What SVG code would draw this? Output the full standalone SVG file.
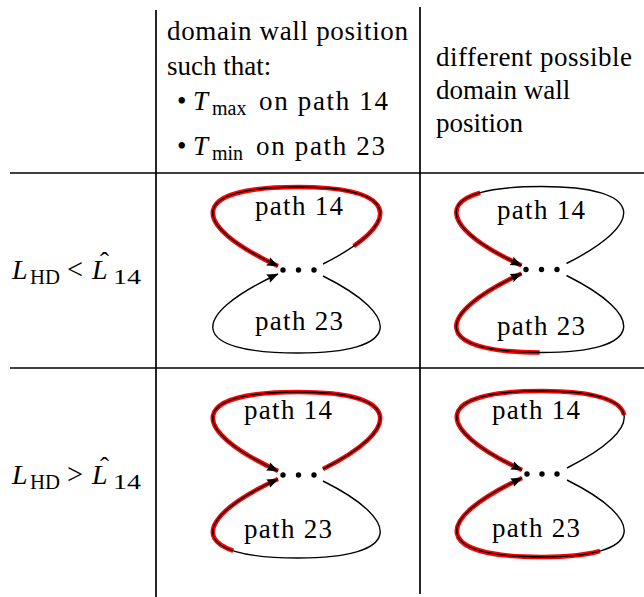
<svg xmlns="http://www.w3.org/2000/svg" width="644" height="597" viewBox="0 0 644 597">
<style>
text{font-family:"Liberation Serif","DejaVu Serif",serif;font-size:27px;fill:#000}
.i{font-style:italic}
.s{font-size:20px}
.grid{stroke:#000;stroke-width:1.7;fill:none}
.loop{fill:none;stroke:#000;stroke-width:1.4}
.hl{fill:none;stroke:#ff0000;stroke-width:4.6}
.dot{fill:#000}
</style>
<defs>
<marker id="arr" viewBox="-12 -5 13 10" refX="0" refY="0" markerWidth="13" markerHeight="10" markerUnits="userSpaceOnUse" orient="auto">
<path d="M0.5,0 L-11,-4.5 Q-8.5,0 -11,4.5 Z" fill="#000"/>
</marker>
<path id="tp" d="M25,-6 C105,-46 105,-83 0,-83 C-110,-83 -110,-46 -20,-4"/>
<path id="bp" d="M25,6 C105,46 105,83 0,83 C-110,83 -110,46 -20,4"/>
</defs>
<g id="grid">
<line class="grid" x1="10" y1="173" x2="644" y2="173"/>
<line class="grid" x1="10" y1="368" x2="644" y2="368"/>
<line class="grid" x1="156" y1="10" x2="156" y2="597"/>
<line class="grid" x1="420" y1="7" x2="420" y2="594"/>
</g>
<g id="header-col2">
<text x="167" y="40" textLength="241" lengthAdjust="spacing">domain wall position</text>
<text x="167" y="75">such that:</text>
<text x="177" y="110">•</text>
<text class="i" x="193" y="110">T</text>
<text class="s" x="212" y="115">max</text>
<text x="259" y="110" textLength="129" lengthAdjust="spacing">on path 14</text>
<text x="177" y="155">•</text>
<text class="i" x="193" y="155">T</text>
<text class="s" x="212" y="160">min</text>
<text x="256" y="155" textLength="129" lengthAdjust="spacing">on path 23</text>
</g>
<g id="header-col3">
<text x="436" y="66" textLength="196" lengthAdjust="spacing">different possible</text>
<text x="436" y="99">domain wall</text>
<text x="436" y="132">position</text>
</g>
<g id="row1-label">
<text class="i" x="12" y="279" style="font-size:28px">L</text>
<text x="30" y="284" style="font-size:20px" textLength="30" lengthAdjust="spacingAndGlyphs">HD</text>
<text x="67" y="279" style="font-size:30px" textLength="16" lengthAdjust="spacingAndGlyphs">&lt;</text>
<text class="i" x="92" y="279" style="font-size:28px">L</text>
<text x="100" y="271">ˆ</text>
<text x="113" y="284" style="font-size:21px" textLength="28" lengthAdjust="spacingAndGlyphs">14</text>
</g>
<g id="row2-label">
<text class="i" x="12" y="484" style="font-size:28px">L</text>
<text x="30" y="489" style="font-size:20px" textLength="30" lengthAdjust="spacingAndGlyphs">HD</text>
<text x="67" y="484" style="font-size:30px" textLength="16" lengthAdjust="spacingAndGlyphs">&gt;</text>
<text class="i" x="92" y="484" style="font-size:28px">L</text>
<text x="100" y="476">ˆ</text>
<text x="113" y="489" style="font-size:21px" textLength="28" lengthAdjust="spacingAndGlyphs">14</text>
</g>
<g id="connectors">
<g transform="translate(298,270)">
<path class="hl" d="M25,-6 C105,-46 105,-83 0,-83 C-110,-83 -110,-46 -20,-4" pathLength="100" stroke-dasharray="90 200" stroke-dashoffset="-10"/>
<use href="#tp" class="loop" marker-end="url(#arr)"/>
<use href="#bp" class="loop" marker-end="url(#arr)"/>
</g>
<g transform="translate(541.5,269.5)">
<path class="hl" d="M25,-6 C105,-46 105,-83 0,-83 C-110,-83 -110,-46 -20,-4" pathLength="100" stroke-dasharray="34 200" stroke-dashoffset="-66"/>
<path class="hl" d="M25,6 C105,46 105,83 0,83 C-110,83 -110,46 -20,4" pathLength="100" stroke-dasharray="51 200" stroke-dashoffset="-49"/>
<use href="#tp" class="loop" marker-end="url(#arr)"/>
<use href="#bp" class="loop" marker-end="url(#arr)"/>
</g>
<g transform="translate(298,475)">
<path class="hl" d="M25,-6 C105,-46 105,-83 0,-83 C-110,-83 -110,-46 -20,-4"/>
<path class="hl" d="M25,6 C105,46 105,83 0,83 C-110,83 -110,46 -20,4" pathLength="100" stroke-dasharray="33 200" stroke-dashoffset="-67"/>
<use href="#tp" class="loop" marker-end="url(#arr)"/>
<use href="#bp" class="loop" marker-end="url(#arr)"/>
</g>
<g transform="translate(542,474)">
<path class="hl" d="M25,-6 C105,-46 105,-83 0,-83 C-110,-83 -110,-46 -20,-4" pathLength="100" stroke-dasharray="77 200" stroke-dashoffset="-23"/>
<path class="hl" d="M25,6 C105,46 105,83 0,83 C-110,83 -110,46 -20,4" pathLength="100" stroke-dasharray="68 200" stroke-dashoffset="-32"/>
<use href="#tp" class="loop" marker-end="url(#arr)"/>
<use href="#bp" class="loop" marker-end="url(#arr)"/>
</g>
</g>
<g id="node-r1c2">
<circle class="dot" cx="283" cy="270" r="2.7"/><circle class="dot" cx="298.5" cy="270" r="2.7"/><circle class="dot" cx="314" cy="270" r="2.7"/>
<text x="299" y="215" text-anchor="middle" textLength="88" lengthAdjust="spacing">path 14</text>
<text x="299" y="330" text-anchor="middle" textLength="88" lengthAdjust="spacing">path 23</text>
</g>
<g id="node-r1c3">
<circle class="dot" cx="526" cy="269.5" r="2.7"/><circle class="dot" cx="541.5" cy="269.5" r="2.7"/><circle class="dot" cx="557" cy="269.5" r="2.7"/>
<text x="541" y="219" text-anchor="middle" textLength="88" lengthAdjust="spacing">path 14</text>
<text x="541" y="335" text-anchor="middle" textLength="88" lengthAdjust="spacing">path 23</text>
</g>
<g id="node-r2c2">
<circle class="dot" cx="283" cy="475" r="2.7"/><circle class="dot" cx="298.5" cy="475" r="2.7"/><circle class="dot" cx="314" cy="475" r="2.7"/>
<text x="288" y="419" text-anchor="middle" textLength="88" lengthAdjust="spacing">path 14</text>
<text x="288" y="538" text-anchor="middle" textLength="88" lengthAdjust="spacing">path 23</text>
</g>
<g id="node-r2c3">
<circle class="dot" cx="527" cy="474" r="2.7"/><circle class="dot" cx="542" cy="474" r="2.7"/><circle class="dot" cx="557" cy="474" r="2.7"/>
<text x="536" y="419" text-anchor="middle" textLength="88" lengthAdjust="spacing">path 14</text>
<text x="536" y="537" text-anchor="middle" textLength="88" lengthAdjust="spacing">path 23</text>
</g>
</svg>
